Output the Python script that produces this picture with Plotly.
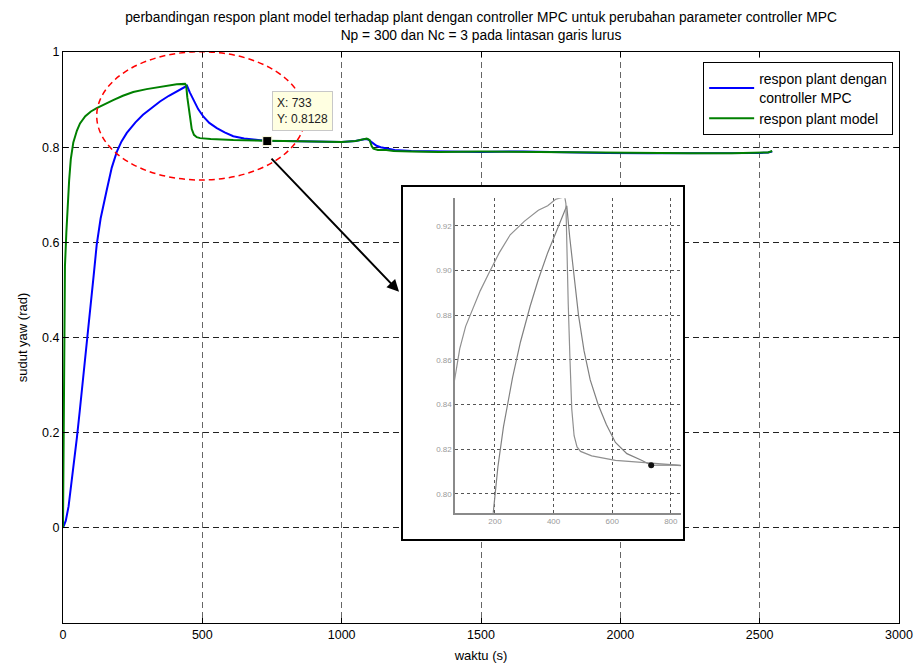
import plotly.graph_objects as go

# ---- data ----
blue_x = [0, 10, 20, 30, 40, 50, 60, 70, 80, 90, 100, 110, 121, 135, 157, 175, 193, 210, 229, 260,
          287, 320, 348, 380, 410, 438, 445, 455, 468, 485, 504, 525, 552, 580, 611, 650, 700, 733, 800, 900,
          1000, 1050, 1085, 1095, 1110, 1125, 1140, 1160, 1190, 1250, 1350, 1500, 1650, 1800, 1950, 2100,
          2250, 2400, 2500, 2530, 2545]
blue_y = [0, 0.015, 0.045, 0.09, 0.14, 0.19, 0.245, 0.3, 0.355, 0.41, 0.47, 0.53, 0.595, 0.65, 0.71, 0.757,
          0.79, 0.812, 0.83, 0.852, 0.868, 0.884, 0.896, 0.908, 0.918, 0.927, 0.929, 0.915, 0.899, 0.88,
          0.864, 0.851, 0.84, 0.831, 0.823, 0.818, 0.815, 0.8128, 0.813, 0.812, 0.811, 0.813, 0.817, 0.816,
          0.809, 0.803, 0.800, 0.797, 0.794, 0.792, 0.791, 0.790, 0.791, 0.789, 0.788, 0.787, 0.787, 0.787,
          0.788, 0.789, 0.791]

green_x = [0, 2, 4, 7, 12, 17, 22, 28, 37, 50, 61, 80, 100, 121, 150, 180, 215, 252, 300, 348,
           380, 408, 438, 442, 446, 450, 456, 462, 470, 480, 492, 530, 611, 700, 800, 900, 1000, 1050, 1090,
           1100, 1108, 1114, 1130, 1160, 1186, 1250, 1350, 1500, 1650, 1800, 1950, 2100, 2250, 2400, 2500,
           2530, 2545]
green_y = [0, 0.2, 0.4, 0.55, 0.62, 0.68, 0.73, 0.775, 0.81, 0.835, 0.85, 0.865, 0.875, 0.882, 0.891,
           0.899, 0.908, 0.916, 0.922, 0.927, 0.929, 0.932, 0.933, 0.930, 0.905, 0.885, 0.86, 0.838, 0.826,
           0.821, 0.819, 0.817, 0.815, 0.814, 0.813, 0.812, 0.811, 0.813, 0.818, 0.815, 0.802, 0.797, 0.794,
           0.794, 0.792, 0.791, 0.790, 0.791, 0.790, 0.789, 0.788, 0.787, 0.787, 0.787, 0.788, 0.789, 0.792]

tip_x = [733]
tip_y = [0.8128]

x_ticks = [0, 500, 1000, 1500, 2000, 2500, 3000]
x_tick_labels = ["0", "500", "1000", "1500", "2000", "2500", "3000"]
y_ticks = [0, 0.2, 0.4, 0.6, 0.8, 1]
y_tick_labels = ["0", "0.2", "0.4", "0.6", "0.8", "1"]

inset_x_ticks = [200, 400, 600, 800]
inset_x_labels = ["200", "400", "600", "800"]
inset_y_ticks = [0.80, 0.82, 0.84, 0.86, 0.88, 0.90, 0.92]
inset_y_labels = ["0.80", "0.82", "0.84", "0.86", "0.88", "0.90", "0.92"]

title_text = ("perbandingan respon plant model terhadap plant dengan controller MPC untuk perubahan parameter controller MPC"
              "<br>Np = 300 dan Nc = 3 pada lintasan garis lurus")

FONT = "Liberation Sans, Arial, Helvetica, sans-serif"

fig = go.Figure()

# main curves
fig.add_trace(go.Scatter(x=blue_x, y=blue_y, mode="lines", name="respon plant dengan<br>controller MPC",
                         line=dict(color="#0000FF", width=2)))
fig.add_trace(go.Scatter(x=green_x, y=green_y, mode="lines", name="respon plant model",
                         line=dict(color="#008000", width=2)))
fig.add_trace(go.Scatter(x=tip_x, y=tip_y, mode="markers", showlegend=False,
                         marker=dict(symbol="square", size=9, color="black",
                                     line=dict(color="#FFFFE1", width=1))))

# inset frame subplot (x2/y2)
fig.add_trace(go.Scatter(x=[None], y=[None], xaxis="x2", yaxis="y2", showlegend=False, hoverinfo="skip"))

# inset plot (x3/y3): zoomed picture of the same responses
fig.add_trace(go.Scatter(x=blue_x, y=blue_y, xaxis="x3", yaxis="y3", mode="lines", showlegend=False,
                         line=dict(color="#808080", width=1.2)))
fig.add_trace(go.Scatter(x=green_x, y=green_y, xaxis="x3", yaxis="y3", mode="lines", showlegend=False,
                         line=dict(color="#909090", width=1.2)))
fig.add_trace(go.Scatter(x=tip_x, y=tip_y, xaxis="x3", yaxis="y3", mode="markers", showlegend=False,
                         marker=dict(symbol="circle", size=6, color="#111")))

fig.update_layout(
    width=919, height=667,
    margin=dict(l=63, r=20, t=52, b=44, autoexpand=False),
    paper_bgcolor="white", plot_bgcolor="white",
    font=dict(family=FONT, size=13, color="black"),
    title=dict(text=title_text, x=0.5, xref="paper", xanchor="center",
               yref="container", y=0.967, yanchor="middle", font=dict(size=13.8)),
    showlegend=True,
    legend=dict(x=0.993, xanchor="right", y=0.982, yanchor="top",
                bgcolor="white", bordercolor="black", borderwidth=1,
                font=dict(size=14), tracegroupgap=0, itemwidth=45),
    xaxis=dict(range=[0, 3000], tickvals=x_ticks, ticktext=x_tick_labels, automargin=False,
               showgrid=True, gridcolor="#666", griddash="6px,4px", gridwidth=1,
               zeroline=False, showline=True, linecolor="black", linewidth=1, mirror="ticks",
               ticks="inside", ticklen=5, tickcolor="black", tickfont=dict(size=12.5),
               title=dict(text="waktu (s)", standoff=9, font=dict(size=13))),
    yaxis=dict(range=[-0.2, 1], tickvals=y_ticks, ticktext=y_tick_labels, automargin=False,
               showgrid=True, gridcolor="#222", griddash="6px,4px", gridwidth=1,
               zeroline=False, showline=True, linecolor="black", linewidth=1, mirror="ticks",
               ticks="inside", ticklen=5, tickcolor="black", tickfont=dict(size=12.5),
               title=dict(text="sudut yaw (rad)", standoff=11, font=dict(size=13))),
    xaxis2=dict(domain=[0.4067, 0.7416], range=[0, 1], anchor="y2", showgrid=False, zeroline=False,
                showticklabels=False, ticks="", showline=True, mirror=True, linecolor="black", linewidth=2),
    yaxis2=dict(domain=[0.147, 0.7636], range=[0, 1], anchor="x2", showgrid=False, zeroline=False,
                showticklabels=False, ticks="", showline=True, mirror=True, linecolor="black", linewidth=2),
    xaxis3=dict(domain=[0.469, 0.739], range=[64, 834], anchor="y3", tickvals=inset_x_ticks,
                ticktext=inset_x_labels, showgrid=True, gridcolor="#555", griddash="dot", gridwidth=1.3,
                zeroline=False, showline=True, linecolor="#8a8a8a", linewidth=1.5, ticks="",
                tickfont=dict(size=8, color="#9a9a9a")),
    yaxis3=dict(domain=[0.193, 0.744], range=[0.7915, 0.9324], anchor="x3", tickvals=inset_y_ticks,
                ticktext=inset_y_labels, showgrid=True, gridcolor="#555", griddash="dot", gridwidth=1.3,
                zeroline=False, showline=True, linecolor="#8a8a8a", linewidth=1.5, ticks="",
                tickfont=dict(size=8, color="#9a9a9a")),
)

# red dashed ellipse around the peak
fig.add_shape(type="circle", xref="x", yref="y", x0=121, x1=869, y0=0.731, y1=1.0006,
              line=dict(color="#FF0000", width=1.5, dash="6px,4px"), layer="above")

# data tip label
fig.add_annotation(x=750, y=0.918, xref="x", yref="y", xanchor="left", yanchor="top",
                   text="X: 733<br>Y: 0.8128", showarrow=False, align="left",
                   bgcolor="#FFFFE1", bordercolor="#c8c8c8", borderwidth=1, borderpad=4,
                   font=dict(size=12, color="#222"))

# arrow from data tip to the inset
fig.add_annotation(x=1206, y=0.496, ax=743, ay=0.779, xref="x", yref="y", axref="x", ayref="y",
                   text="", showarrow=True, arrowhead=2, arrowsize=1.2, arrowwidth=2, arrowcolor="black")

fig.write_html("out.html")
